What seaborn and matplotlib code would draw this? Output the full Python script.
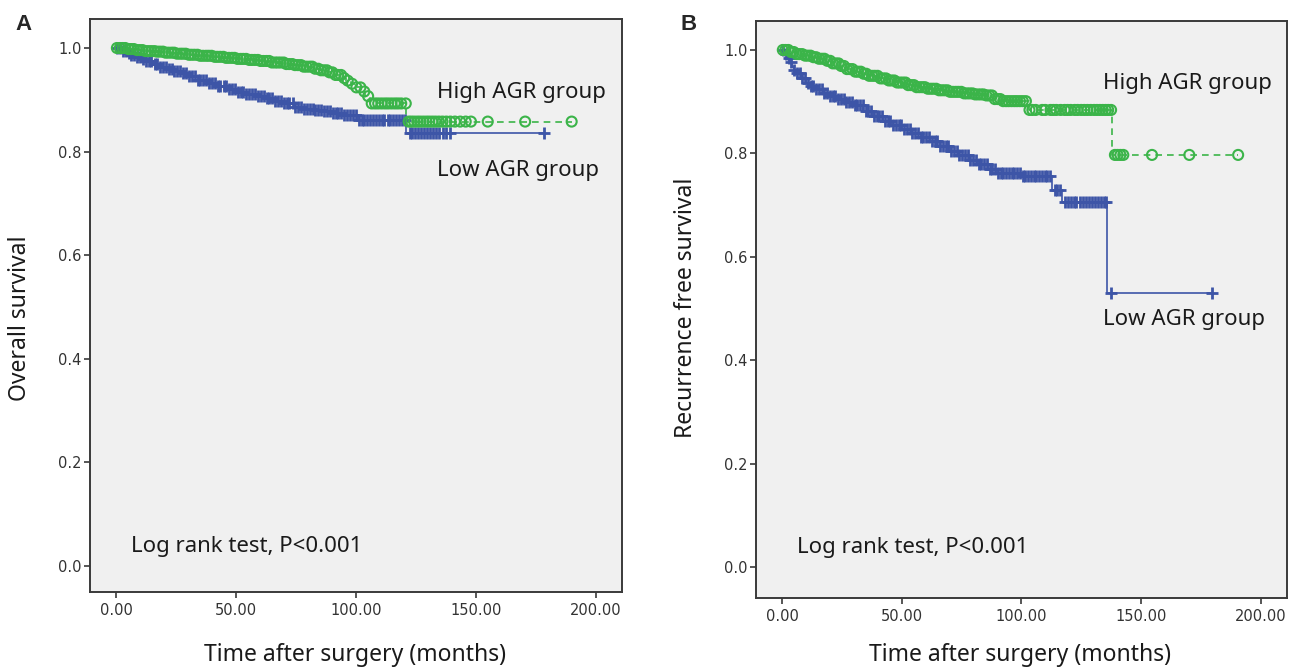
import numpy as np
import matplotlib
matplotlib.use("Agg")
import matplotlib.pyplot as plt
import seaborn as sns

# ---- panel A: overall survival (Kaplan-Meier knots) ----
a_high_t = [0, 4, 8, 12, 16, 20, 25, 30, 35, 40, 45, 50, 55, 60, 65, 70, 74, 78, 82, 85, 88, 91, 94,
            96, 98, 100, 102, 104, 106, 121, 190.0]
a_high_s = [1.0, 0.998, 0.996, 0.994, 0.993, 0.991, 0.989, 0.987, 0.985, 0.983, 0.981, 0.979, 0.977,
            0.975, 0.972, 0.969, 0.967, 0.964, 0.960, 0.957, 0.953, 0.948, 0.942, 0.937, 0.931, 0.924,
            0.916, 0.907, 0.893, 0.858, 0.858]
a_high_cens = [0.3, 1.5, 2.7, 3.8, 5.1, 6.2, 7.4, 8.7, 9.8, 11.0, 12.3, 13.4, 14.6, 15.9, 17.0, 18.2,
               19.5, 20.6, 21.8, 23.1, 24.2, 25.4, 26.7, 27.8, 29.0, 30.3, 31.4, 32.6, 33.9, 35.0,
               36.2, 37.5, 38.6, 39.8, 41.1, 42.2, 43.4, 44.7, 45.8, 47.0, 48.3, 49.4, 50.6, 51.9,
               53.0, 54.2, 55.5, 56.6, 57.8, 59.1, 60.2, 61.4, 62.7, 63.8, 65.0, 66.3, 67.4, 68.6,
               69.9, 71.0, 72.2, 73.5, 74.6, 75.8, 77.1, 78.2, 79.4, 80.7, 81.8, 83.0, 84.3, 85.4,
               86.6, 87.9, 89.0, 90.2, 91.5, 92.6, 93.8, 95.1, 96.6, 98.4, 100.2, 101.9, 103.5,
               105.1, 106.6, 108.0, 109.3, 110.7, 112.1, 113.4, 114.8, 116.2, 117.5, 118.9, 120.8,
               122.0, 123.1, 124.3, 125.6, 126.8, 128.1, 129.4, 130.6, 131.9, 133.2, 134.6, 136.1,
               137.7, 139.4, 141.3, 143.5, 145.8, 148.0, 155.0, 170.6, 190.0]

a_low_t = [0, 2, 4, 6, 8, 10, 12, 15, 18, 21, 24, 27, 30, 34, 38, 42, 46, 50, 54, 58, 62, 66, 70, 74,
           78, 82, 86, 90, 95, 101, 121, 178.5]
a_low_s = [1.0, 0.995, 0.991, 0.987, 0.983, 0.979, 0.975, 0.970, 0.964, 0.959, 0.955, 0.951, 0.946,
           0.939, 0.932, 0.926, 0.920, 0.915, 0.911, 0.907, 0.903, 0.898, 0.893, 0.887, 0.883, 0.880,
           0.878, 0.875, 0.870, 0.862, 0.835, 0.835]
a_low_cens = [0.5, 1.6, 2.8, 3.9, 5.2, 6.3, 7.5, 8.8, 9.9, 11.1, 12.4, 13.5, 14.7, 16.0, 17.1, 18.3,
              19.6, 20.7, 21.9, 23.2, 24.3, 25.5, 26.8, 27.9, 29.1, 30.4, 31.5, 32.7, 34.0, 35.1,
              36.3, 37.6, 38.7, 39.9, 41.2, 42.3, 43.5, 44.8, 45.9, 47.1, 48.4, 49.5, 50.7, 52.0,
              53.1, 54.3, 55.6, 56.7, 57.9, 59.2, 60.3, 61.5, 62.8, 63.9, 65.1, 66.4, 67.5, 68.7,
              70.0, 71.1, 72.3, 73.6, 74.7, 75.9, 77.2, 78.3, 79.5, 80.8, 81.9, 83.1, 84.4, 85.5,
              86.7, 88.0, 89.1, 90.3, 91.6, 92.7, 93.9, 95.2, 96.3, 97.5, 98.8, 99.9, 101.1, 102.4,
              103.5, 104.7, 106.0, 107.1, 108.3, 109.6, 110.7, 111.9, 113.2, 114.3, 115.5, 116.8,
              117.9, 119.1, 120.5, 122.4, 123.6, 124.8, 126.1, 127.3, 128.6, 129.8, 131.1, 132.3,
              133.6, 134.8, 136.2, 137.6, 139.2, 178.5]

# ---- panel B: recurrence free survival ----
b_high_t = [0, 3, 6, 9, 12, 15, 18, 21, 24, 27, 30, 33, 36, 40, 44, 48, 52, 56, 60, 65, 70, 75, 80,
            85, 88, 92, 103, 138, 190.6]
b_high_s = [1.0, 0.996, 0.992, 0.989, 0.986, 0.983, 0.979, 0.974, 0.969, 0.963, 0.958, 0.954, 0.950,
            0.945, 0.941, 0.937, 0.932, 0.928, 0.925, 0.922, 0.919, 0.916, 0.914, 0.912, 0.905, 0.901,
            0.884, 0.797, 0.797]
b_high_cens = [0.3, 1.4, 2.6, 3.7, 4.9, 6.1, 7.2, 8.4, 9.6, 10.7, 11.9, 13.1, 14.2, 15.4, 16.6, 17.7,
               18.9, 20.1, 21.2, 22.4, 23.6, 24.7, 25.9, 27.1, 28.2, 29.4, 30.6, 31.7, 32.9, 34.1,
               35.2, 36.4, 37.6, 38.7, 39.9, 41.1, 42.2, 43.4, 44.6, 45.7, 46.9, 48.1, 49.2, 50.4,
               51.6, 52.7, 53.9, 55.1, 56.2, 57.4, 58.6, 59.7, 60.9, 62.1, 63.2, 64.4, 65.6, 66.7,
               67.9, 69.1, 70.2, 71.4, 72.6, 73.7, 74.9, 76.1, 77.2, 78.4, 79.6, 80.7, 81.9, 83.1,
               84.2, 85.4, 86.6, 87.7, 88.9, 90.1, 91.2, 92.4, 93.6, 94.7, 95.9, 97.1, 98.2, 99.4,
               100.6, 101.9, 103.4, 104.6, 106.0, 108.7, 110.0, 112.2, 113.4, 114.6, 116.4, 118.1,
               119.3, 120.6, 122.3, 123.5, 125.0, 126.3, 127.6, 129.0, 130.4, 131.6, 132.8, 134.0,
               135.2, 136.3, 137.5, 139.1, 140.2, 141.4, 142.6, 154.6, 170.2, 190.6]

b_low_t = [0, 1, 2, 3, 4, 5, 6, 8, 10, 12, 14, 17, 20, 23, 26, 30, 34, 38, 42, 46, 50, 54, 58, 62,
           66, 70, 74, 78, 82, 86, 90, 100, 113, 117, 136, 179.8]
b_low_s = [1.0, 0.992, 0.984, 0.976, 0.968, 0.961, 0.955, 0.945, 0.937, 0.930, 0.924, 0.916, 0.910,
           0.905, 0.899, 0.893, 0.882, 0.872, 0.862, 0.855, 0.848, 0.840, 0.832, 0.823, 0.814, 0.805,
           0.796, 0.788, 0.779, 0.770, 0.762, 0.757, 0.729, 0.706, 0.530, 0.530]
b_low_cens = [0.5, 1.6, 2.8, 3.9, 5.1, 6.2, 7.4, 8.5, 9.7, 10.8, 12.0, 13.1, 14.3, 15.4, 16.6, 17.7,
              18.9, 20.0, 21.2, 22.3, 23.5, 24.6, 25.8, 26.9, 28.1, 29.2, 30.4, 31.5, 32.7, 33.8,
              35.0, 36.1, 37.3, 38.4, 39.6, 40.7, 41.9, 43.0, 44.2, 45.3, 46.5, 47.6, 48.8, 49.9,
              51.1, 52.2, 53.4, 54.5, 55.7, 56.8, 58.0, 59.1, 60.3, 61.4, 62.6, 63.7, 64.9, 66.0,
              67.2, 68.3, 69.5, 70.6, 71.8, 72.9, 74.1, 75.2, 76.4, 77.5, 78.7, 79.8, 81.0, 82.1,
              83.3, 84.4, 85.6, 86.7, 87.9, 89.0, 90.2, 91.3, 92.5, 93.6, 94.8, 95.9, 97.1, 98.2,
              99.4, 100.5, 101.7, 102.8, 104.0, 105.1, 106.3, 107.4, 108.6, 109.7, 110.9, 112.0,
              114.0, 115.0, 116.0, 118.3, 119.5, 120.6, 121.8, 123.0, 124.5, 125.7, 127.0, 128.3,
              129.6, 130.8, 132.0, 133.3, 134.4, 135.5, 137.5, 179.8]

xticks = [0, 50, 100, 150, 200]
xticklabels = ["0.00", "50.00", "100.00", "150.00", "200.00"]
yticks = [0.0, 0.2, 0.4, 0.6, 0.8, 1.0]
yticklabels = ["0.0", "0.2", "0.4", "0.6", "0.8", "1.0"]

GREEN = "#3bb449"
BLUE = "#3d55a7"
LABEL_FONT = ["Noto Sans", "DejaVu Sans"]


def step_at(t_knots, s_knots, t):
    idx = np.searchsorted(np.array(t_knots), np.array(t), side="right") - 1
    return np.array(s_knots)[idx]


def km_panel(ax, ylim, high, low, txt_high, txt_low):
    ht, hs, hc = high
    lt, ls, lc = low
    # step lines
    sns.lineplot(x=lt, y=ls, ax=ax, color=BLUE, lw=1.2, drawstyle="steps-post",
                 estimator=None, sort=False)
    sns.lineplot(x=ht, y=hs, ax=ax, color=GREEN, lw=1.2, drawstyle="steps-post",
                 estimator=None, sort=False, linestyle=(0, (4, 3)))
    # censoring marks
    sns.scatterplot(x=lc, y=step_at(lt, ls, lc), ax=ax, marker="+", s=75,
                    color=BLUE, linewidth=2.0, zorder=3)
    sns.scatterplot(x=hc, y=step_at(ht, hs, hc), ax=ax, marker="o", s=52,
                    facecolor="none", edgecolor=GREEN, linewidth=1.5, zorder=4)

    ax.set_xlim(-10.9, 211)
    ax.set_ylim(*ylim)
    ax.set_xticks(xticks)
    ax.set_xticklabels(xticklabels)
    ax.set_yticks(yticks)
    ax.set_yticklabels(yticklabels)
    ax.set_xlabel("")
    ax.set_ylabel("")
    ax.set_facecolor("#f0f0f0")
    for sp in ax.spines.values():
        sp.set_color("#3a3a3a")
        sp.set_linewidth(1.4)
    ax.tick_params(direction="out", length=4, width=1.2, color="#3a3a3a",
                   labelsize=10.5, labelcolor="#333333", pad=4, left=True, bottom=True)
    ax.tick_params(axis="y", pad=2)

    ax.text(134, txt_high, "High AGR group", fontsize=16, family=LABEL_FONT,
            color="#1a1a1a", va="center", ha="left")
    ax.text(134, txt_low, "Low AGR group", fontsize=16, family=LABEL_FONT,
            color="#1a1a1a", va="center", ha="left")
    ax.text(6.3, 0.038, "Log rank test, P<0.001", fontsize=16, family=LABEL_FONT,
            color="#1a1a1a", va="center", ha="left")


sns.set_style("white")
plt.rcParams["font.family"] = ["DejaVu Sans"]

fig = plt.figure(figsize=(13.01, 6.69), dpi=100)
ax1 = fig.add_axes([0.0692, 0.1151, 0.4089, 0.8565])
ax2 = fig.add_axes([0.5811, 0.1061, 0.4081, 0.8625])

km_panel(ax1, (-0.05, 1.056), (a_high_t, a_high_s, a_high_cens),
         (a_low_t, a_low_s, a_low_cens), 0.915, 0.764)
km_panel(ax2, (-0.06, 1.056), (b_high_t, b_high_s, b_high_cens),
         (b_low_t, b_low_s, b_low_cens), 0.936, 0.478)

# panel letters and axis titles
fig.text(15 / 1301, 1 - 24 / 669, "A", fontsize=16, fontweight="bold",
         family=["Liberation Sans", "DejaVu Sans"], va="center", ha="left")
fig.text(680 / 1301, 1 - 24 / 669, "B", fontsize=16, fontweight="bold",
         family=["Liberation Sans", "DejaVu Sans"], va="center", ha="left")
fig.text(355 / 1301, 1 - 655 / 669, "Time after surgery (months)", fontsize=16.5,
         family=LABEL_FONT, color="#1a1a1a", ha="center", va="center")
fig.text(1020 / 1301, 1 - 655 / 669, "Time after surgery (months)", fontsize=16.5,
         family=LABEL_FONT, color="#1a1a1a", ha="center", va="center")
fig.text(20 / 1301, 1 - 318 / 669, "Overall survival", fontsize=16.5, rotation=90,
         family=LABEL_FONT, color="#1a1a1a", ha="center", va="center")
fig.text(686 / 1301, 1 - 308 / 669, "Recurrence free survival", fontsize=16.5, rotation=90,
         family=LABEL_FONT, color="#1a1a1a", ha="center", va="center")

plt.savefig("out.png", dpi=100)
plt.close("all")
